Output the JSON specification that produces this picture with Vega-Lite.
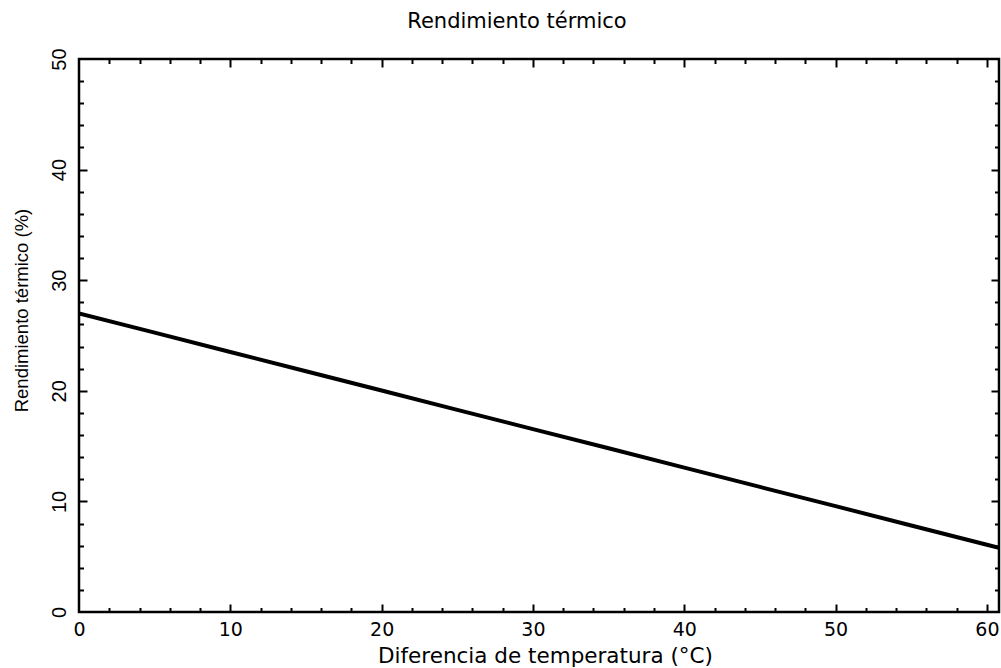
{
  "$schema": "https://vega.github.io/schema/vega-lite/v6.json",
  "width": 920,
  "height": 553,
  "autosize": "none",
  "padding": {"left": 79, "top": 59, "right": 2, "bottom": 56},
  "background": "white",
  "config": {
    "view": {"stroke": "black", "strokeWidth": 2.5},
    "axis": {"domain": false, "grid": false, "tickColor": "black", "labelColor": "black", "titleColor": "black", "tickWidth": 2},
    "title": {"font": "DejaVu Sans", "fontSize": 21, "fontWeight": "normal", "color": "black"}
  },
  "title": {
    "text": "Rendimiento térmico",
    "anchor": "middle",
    "baseline": "alphabetic",
    "dx": -22,
    "dy": 15,
    "offset": 14
  },
  "data": {
    "values": [
      {"dif": 0, "rend": 27.0},
      {"dif": 5, "rend": 25.26},
      {"dif": 10, "rend": 23.51},
      {"dif": 15, "rend": 21.77},
      {"dif": 20, "rend": 20.03},
      {"dif": 25, "rend": 18.28},
      {"dif": 30, "rend": 16.54},
      {"dif": 35, "rend": 14.8},
      {"dif": 40, "rend": 13.05},
      {"dif": 45, "rend": 11.31},
      {"dif": 50, "rend": 9.57},
      {"dif": 55, "rend": 7.82},
      {"dif": 60, "rend": 6.08},
      {"dif": 60.8, "rend": 5.8}
    ]
  },
  "layer": [
    {
      "mark": {"type": "line", "color": "black", "strokeWidth": 4, "clip": true},
      "encoding": {
        "x": {"field": "dif", "type": "quantitative", "scale": {"domain": [0, 60.8], "nice": false, "zero": false},
          "axis": {"orient": "bottom", "values": [0, 10, 20, 30, 40, 50, 60], "ticks": false, "labelPadding": 8, "labelFont": "DejaVu Sans", "labelFontSize": 19, "labelBaseline": "top", "labelAlign": "center", "labelFlush": false, "labelOverlap": false,
            "title": "Diferencia de temperatura (°C)", "titleFont": "DejaVu Sans", "titleFontSize": 21.5, "titleFontWeight": "normal", "titleBaseline": "alphabetic", "titleAnchor": "middle", "titleX": 466, "titleY": 50}},
        "y": {"field": "rend", "type": "quantitative", "scale": {"domain": [0, 50], "nice": false, "zero": false},
          "axis": {"orient": "left", "values": [0, 10, 20, 30, 40, 50], "ticks": false, "labelAngle": -90, "labelAlign": "center", "labelBaseline": "alphabetic", "labelPadding": 14, "labelFont": "Liberation Sans", "labelFontSize": 20, "labelFlush": false, "labelOverlap": false,
            "title": "Rendimiento térmico (%)", "titleFont": "Liberation Sans", "titleFontSize": 18.5, "titleFontWeight": "normal", "titleAngle": -90, "titleAlign": "center", "titleBaseline": "alphabetic", "titleX": -52, "titleY": 251}}
      }
    },
    {
      "mark": {"type": "point", "opacity": 0},
      "encoding": {
        "x": {"field": "dif", "type": "quantitative", "scale": {"domain": [0, 60.8], "nice": false, "zero": false},
          "axis": {"orient": "bottom", "values": [10, 20, 30, 40, 50, 60], "labels": false, "tickSize": -8, "title": null}},
        "y": {"field": "rend", "type": "quantitative", "scale": {"domain": [0, 50], "nice": false, "zero": false},
          "axis": {"orient": "left", "values": [10, 20, 30, 40], "labels": false, "tickSize": -8, "title": null}}
      }
    },
    {
      "mark": {"type": "point", "opacity": 0},
      "encoding": {
        "x": {"field": "dif", "type": "quantitative", "scale": {"domain": [0, 60.8], "nice": false, "zero": false},
          "axis": {"orient": "bottom", "values": [2, 4, 6, 8, 12, 14, 16, 18, 22, 24, 26, 28, 32, 34, 36, 38, 42, 44, 46, 48, 52, 54, 56, 58], "labels": false, "tickSize": -4.5, "title": null}},
        "y": {"field": "rend", "type": "quantitative", "scale": {"domain": [0, 50], "nice": false, "zero": false},
          "axis": {"orient": "left", "values": [2, 4, 6, 8, 12, 14, 16, 18, 22, 24, 26, 28, 32, 34, 36, 38, 42, 44, 46, 48], "labels": false, "tickSize": -4.5, "title": null}}
      }
    },
    {
      "mark": {"type": "point", "opacity": 0},
      "encoding": {
        "x": {"field": "dif", "type": "quantitative", "scale": {"domain": [0, 60.8], "nice": false, "zero": false},
          "axis": {"orient": "top", "values": [10, 20, 30, 40, 50, 60], "labels": false, "tickSize": -8, "title": null}},
        "y": {"field": "rend", "type": "quantitative", "scale": {"domain": [0, 50], "nice": false, "zero": false},
          "axis": {"orient": "right", "values": [10, 20, 30, 40], "labels": false, "tickSize": -8, "title": null}}
      }
    },
    {
      "mark": {"type": "point", "opacity": 0},
      "encoding": {
        "x": {"field": "dif", "type": "quantitative", "scale": {"domain": [0, 60.8], "nice": false, "zero": false},
          "axis": {"orient": "top", "values": [2, 4, 6, 8, 12, 14, 16, 18, 22, 24, 26, 28, 32, 34, 36, 38, 42, 44, 46, 48, 52, 54, 56, 58], "labels": false, "tickSize": -4.5, "title": null}},
        "y": {"field": "rend", "type": "quantitative", "scale": {"domain": [0, 50], "nice": false, "zero": false},
          "axis": {"orient": "right", "values": [2, 4, 6, 8, 12, 14, 16, 18, 22, 24, 26, 28, 32, 34, 36, 38, 42, 44, 46, 48], "labels": false, "tickSize": -4.5, "title": null}}
      }
    }
  ],
  "resolve": {
    "scale": {"x": "independent", "y": "independent"},
    "axis": {"x": "independent", "y": "independent"}
  }
}
